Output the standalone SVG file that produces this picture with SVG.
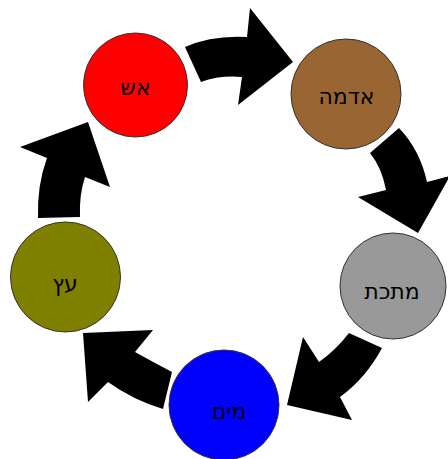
<svg xmlns="http://www.w3.org/2000/svg" width="448" height="459" viewBox="0 0 448 459">
<style>
.node circle{stroke:#333;stroke-width:1}
.node text{font-family:"DejaVu Sans",sans-serif;font-size:22px;fill:#000;text-anchor:middle}
.arrow{fill:#000}
</style>
<rect width="448" height="459" fill="#fff"/>
<g id="connectors">
<path class="arrow" d="M185,47 Q212,35 247,37 L250,8 L293,62 L238,105 L242,77 Q220,75 201,82 Z"/>
<path class="arrow" d="M399,128 Q420,150 427,182 L450,176 L418,233 L358,197 L386,190 Q382,168 370,153 Z"/>
<path class="arrow" d="M382,348 Q366,378 340,397 L352,420 L287,405 L303,337 L319,362 Q336,350 349,333 Z"/>
<path class="arrow" d="M172,372 Q153,362 135,352 L153,330 L83,333 L88,402 L108,382 Q133,400 163,409 Z"/>
<path class="arrow" d="M80,217 Q79,195 85,177 L110,187 L88,122 L20,147 L47,158 Q37,185 38,218 Z"/>
</g>
<g id="fire" class="node"><circle cx="135.5" cy="85" r="52" fill="#ff0000"/><text x="135.5" y="95">אש</text></g>
<g id="earth" class="node"><circle cx="346" cy="94" r="55" fill="#996633"/><text x="346.5" y="104">אדמה</text></g>
<g id="metal" class="node"><circle cx="393" cy="286" r="53" fill="#999999"/><text x="392" y="299">מתכת</text></g>
<g id="water" class="node"><circle cx="224" cy="405" r="55" fill="#0000ff"/><text x="229" y="419">מים</text></g>
<g id="wood" class="node"><circle cx="65.5" cy="277" r="55" fill="#808000"/><text x="65" y="291">עץ</text></g>
</svg>
